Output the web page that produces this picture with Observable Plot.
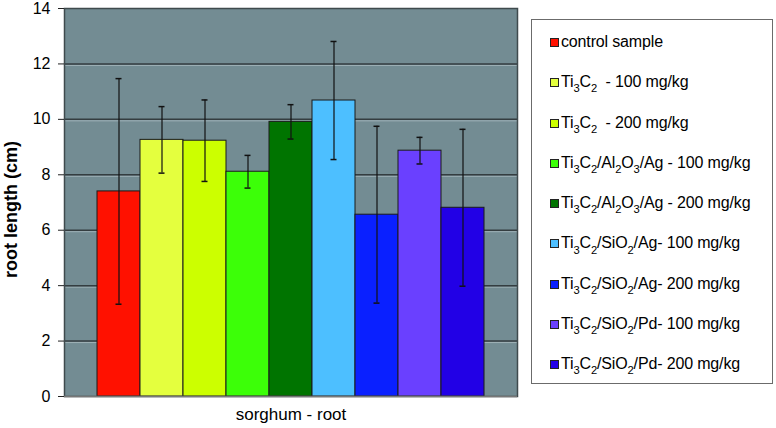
<!DOCTYPE html>
<html>
<head>
<meta charset="utf-8">
<script src="https://cdn.jsdelivr.net/npm/d3@7"></script>
<script src="https://cdn.jsdelivr.net/npm/@observablehq/plot@0.6"></script>
<style>
  html, body { margin: 0; padding: 0; background: #fff; }
  #wrap { position: relative; width: 776px; height: 428px; overflow: hidden; font-family: "Liberation Sans", Arial, sans-serif; }
  #legend { position: absolute; left: 531px; top: 19px; width: 242px; height: 365px; border: 1.5px solid #6b6b6b; background: #fff; box-sizing: border-box; padding-top: 2px; }
  .item { position: relative; height: 40.3px; line-height: 40.3px; font-size: 16px; color: #000; white-space: nowrap; padding-left: 29px; letter-spacing: -0.15px; }
  .sw { position: absolute; left: 18px; top: 16px; width: 7px; height: 7px; border: 1px solid #222; }
  .item sub { font-size: 0.7em; vertical-align: baseline; position: relative; top: 0.45em; line-height: 0; }
</style>
</head>
<body>
<div id="wrap"></div>
<script>
// ---- data ----
const category = ["sorghum - root"];
const series = [
  "control sample",
  "Ti3C2  - 100 mg/kg",
  "Ti3C2  - 200 mg/kg",
  "Ti3C2/Al2O3/Ag - 100 mg/kg",
  "Ti3C2/Al2O3/Ag - 200 mg/kg",
  "Ti3C2/SiO2/Ag- 100 mg/kg",
  "Ti3C2/SiO2/Ag- 200 mg/kg",
  "Ti3C2/SiO2/Pd- 100 mg/kg",
  "Ti3C2/SiO2/Pd- 200 mg/kg"
];
const values = [7.40, 9.26, 9.23, 8.11, 9.91, 10.68, 6.56, 8.87, 6.81];
const errors = [4.07, 1.20, 1.47, 0.59, 0.62, 2.13, 3.19, 0.48, 2.83];
const colors = ["#ff1100", "#e4ff3e", "#ccff00", "#3cff08", "#007400", "#4dbfff", "#0a20ff", "#6a40ff", "#2200e6"];
const yTicks = [0, 2, 4, 6, 8, 10, 12, 14];
const yLabel = ["root length (cm)"];

const rows = series.map((s, i) => ({series: s, value: values[i], err: errors[i], color: colors[i]}));

const chart = Plot.plot({
  width: 776,
  height: 428,
  marginLeft: 64,
  marginRight: 259,
  marginTop: 8,
  marginBottom: 32,
  style: {fontFamily: "'Liberation Sans', Arial, sans-serif", background: "transparent", overflow: "visible"},
  x: {type: "band", domain: series, paddingInner: 0, paddingOuter: 0.759, align: 0.5, axis: null},
  y: {domain: [0, 14], axis: null},
  color: {type: "identity"},
  marks: [
    Plot.frame({fill: "#738c93", stroke: null}),
    Plot.ruleY(yTicks.filter(t => t > 0 && t < 14), {stroke: "#9fb2b7", strokeWidth: 1, dy: 1.5}),
    Plot.ruleY(yTicks.filter(t => t > 0 && t < 14), {stroke: "#343d40", strokeWidth: 1.5}),
    Plot.frame({stroke: "#3f4a4d", strokeWidth: 1.5}),
    Plot.barY(rows, {x: "series", y: "value", fill: "color", stroke: "#1a1a1a", strokeWidth: 1}),
    Plot.ruleX(rows, {x: "series", y1: d => d.value - d.err, y2: d => d.value + d.err, stroke: "#111", strokeWidth: 1.2}),
    Plot.tickY(rows, {x: "series", y: d => d.value + d.err, stroke: "#111", strokeWidth: 1.5, insetLeft: 18.5, insetRight: 18.5}),
    Plot.tickY(rows, {x: "series", y: d => d.value - d.err, stroke: "#111", strokeWidth: 1.5, insetLeft: 18.5, insetRight: 18.5}),
    Plot.ruleY([0], {stroke: "#777", strokeWidth: 1.5}),
    Plot.axisY(yTicks, {anchor: "left", tickSize: 6, tickPadding: 8, fontSize: 16, stroke: "#222", fill: "#000", label: null}),
    Plot.ruleX([0], {frameAnchor: "left", y1: 14, y2: 0, stroke: "#222", strokeWidth: 1}),
    Plot.text(yLabel, {frameAnchor: "left", textAnchor: "middle", dx: -53, dy: 7, rotate: -90, text: d => d, fontSize: 18, fontWeight: "bold", fill: "#000"}),
    Plot.text(category, {frameAnchor: "bottom", dy: 18, text: d => d, fontSize: 17, fill: "#000", lineAnchor: "middle"})
  ]
});

const wrap = document.getElementById("wrap");
wrap.appendChild(chart);

const legend = document.createElement("div");
legend.id = "legend";
series.forEach((s, i) => {
  const it = document.createElement("div");
  it.className = "item";
  const sw = document.createElement("span");
  sw.className = "sw";
  sw.style.background = colors[i];
  it.appendChild(sw);
  const t = document.createElement("span");
  t.innerHTML = s.replace(/  /g, "\u00a0 ").replace(/([A-Za-z])(\d)/g, "$1<sub>$2</sub>");
  it.appendChild(t);
  legend.appendChild(it);
});
wrap.appendChild(legend);
</script>
</body>
</html>
